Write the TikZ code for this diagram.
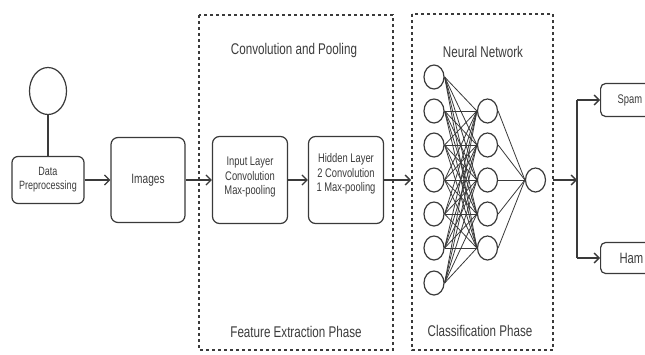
\documentclass[tikz,border=0pt]{standalone}
\usepackage{fontspec}
\setmainfont{Liberation Sans}[FakeStretch=0.75]
\usetikzlibrary{arrows.meta,shapes.geometric}
\definecolor{linegray}{HTML}{3A3A3A}
\definecolor{textgray}{HTML}{3C3C3C}
\tikzset{
  conn/.style={draw=linegray, line width=1.3pt},
  arr/.style={conn, -{Straight Barb[length=5pt,width=10pt,line width=1.3pt]}},
  box/.style={draw=linegray, line width=1.2pt, rounded corners=7pt, align=center,
              text=textgray, inner sep=0pt},
  boxtext/.style={align=center, text=textgray, inner sep=0pt,
                  font=\fontsize{12.5}{14.5}\selectfont},
  phase/.style={draw=linegray, line width=1.4pt, dash pattern=on 3pt off 3pt},
  title/.style={text=textgray, inner sep=0pt, font=\fontsize{15.5}{18}\selectfont},
  neuron/.style={ellipse, draw=linegray, line width=1.2pt, minimum width=20pt,
                 minimum height=24pt, inner sep=0pt},
  synapse/.style={draw=linegray, line width=0.8pt}
}
\begin{document}
\begin{tikzpicture}[x=1pt,y=-1pt]
\useasboundingbox (0,0) rectangle (645,354);
\clip (0,0) rectangle (645,354);
\fill[white] (0,0) rectangle (645,354);

% dashed phase frames
\draw[phase] (199,15) rectangle (393,350);
\draw[phase] (412,14) rectangle (553,350);
\node[title] (convtitle) at (294,50) {Convolution and Pooling};
\node[title] (featphase) at (296,332) {Feature Extraction Phase};
\node[title] (nntitle) at (483,52) {Neural Network};
\node[title] (clsphase) at (480,331) {Classification Phase};

% input pipeline
\node[ellipse, draw=linegray, line width=1.2pt, minimum width=37pt,
      minimum height=47pt, inner sep=0pt] (source) at (48,91) {};
\node[box, rounded corners=6pt, minimum width=72pt, minimum height=47pt,
      font=\fontsize{12}{14}\selectfont] (prep) at (48,180) {Data\\Preprocessing};
\node[box, minimum width=74pt, minimum height=85pt,
      font=\fontsize{13.5}{16}\selectfont] (images) at (148,180) {Images};
\node[box, minimum width=75pt, minimum height=87pt] (inlayer) at (250,180) {};
\node[boxtext] (intext) at (250,177) {Input Layer\\Convolution\\Max-pooling};
\node[box, minimum width=75pt, minimum height=87pt] (hidlayer) at (346,180) {};
\node[boxtext] (hidtext) at (346,174) {Hidden Layer\\2 Convolution\\1 Max-pooling};
\coordinate (nnin) at (411,180);

\draw[conn] (source) -- (prep);
\draw[arr] (prep.east) -- (images.west);
\draw[arr] (images.east) -- (inlayer.west);
\draw[arr] (inlayer.east) -- (hidlayer.west);
\draw[arr] (hidlayer.east) -- (nnin);

% neural network
\foreach \i/\y in {1/77,2/111,3/145,4/180,5/214,6/248,7/283}
  \node[neuron] (i\i) at (434,\y) {};
\foreach \j/\y in {1/111,2/145,3/180,4/214,5/248}
  \node[neuron] (h\j) at (487.5,\y) {};
\node[neuron] (out) at (535.5,180) {};
\foreach \i in {1,...,7}
  \foreach \j in {1,...,5}
    \draw[synapse] (i\i.east) -- (h\j.west);
\foreach \j in {1,...,5}
  \draw[synapse] (h\j.east) -- (out.west);

% result branches
\coordinate (nnout) at (553,180);
\coordinate (fork) at (577,180);
\coordinate (forktop) at (577,100);
\coordinate (forkbot) at (577,258);
\node[box, rounded corners=5pt, minimum width=60pt, minimum height=33pt,
      anchor=west, text width=46pt, align=left,
      font=\fontsize{12.5}{15}\selectfont] (spam) at (600,100) {\hspace*{10pt}Spam};
\node[box, rounded corners=5pt, minimum width=60pt, minimum height=31pt,
      anchor=west, text width=46pt, align=left,
      font=\fontsize{15}{18}\selectfont] (ham) at (600,258) {\hspace*{12pt}Ham};
\draw[arr] (nnout) -- (fork);
\draw[conn] (forktop) -- (forkbot);
\draw[arr] (forktop) -- (spam.west);
\draw[arr] (forkbot) -- (ham.west);
\end{tikzpicture}
\end{document}
